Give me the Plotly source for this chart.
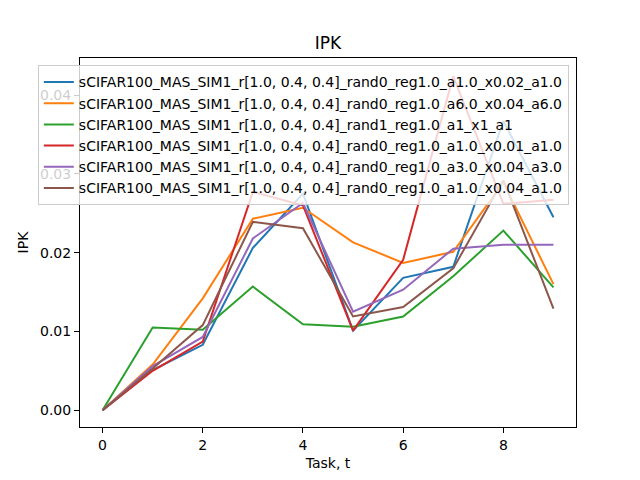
import plotly.graph_objects as go

tasks = [0, 1, 2, 3, 4, 5, 6, 7, 8, 9]

names = [
    "sCIFAR100_MAS_SIM1_r[1.0, 0.4, 0.4]_rand0_reg1.0_a1.0_x0.02_a1.0",
    "sCIFAR100_MAS_SIM1_r[1.0, 0.4, 0.4]_rand0_reg1.0_a6.0_x0.04_a6.0",
    "sCIFAR100_MAS_SIM1_r[1.0, 0.4, 0.4]_rand1_reg1.0_a1_x1_a1",
    "sCIFAR100_MAS_SIM1_r[1.0, 0.4, 0.4]_rand0_reg1.0_a1.0_x0.01_a1.0",
    "sCIFAR100_MAS_SIM1_r[1.0, 0.4, 0.4]_rand0_reg1.0_a3.0_x0.04_a3.0",
    "sCIFAR100_MAS_SIM1_r[1.0, 0.4, 0.4]_rand0_reg1.0_a1.0_x0.04_a1.0",
]

ipk_a1_x002 = [0, 0.0051, 0.0083, 0.0206, 0.0275, 0.0101, 0.0168, 0.0182, 0.0367, 0.0245]
ipk_a6_x004 = [0, 0.0058, 0.0142, 0.0243, 0.0257, 0.0213, 0.0187, 0.0201, 0.0289, 0.0160]
ipk_rand1 = [0, 0.0105, 0.0102, 0.0157, 0.0109, 0.0106, 0.0119, 0.0170, 0.0228, 0.0156]
ipk_a1_x001 = [0, 0.0050, 0.0087, 0.0277, 0.0260, 0.0101, 0.0191, 0.0424, 0.0262, 0.0267]
ipk_a3_x004 = [0, 0.0056, 0.0093, 0.0218, 0.0263, 0.0125, 0.0153, 0.0205, 0.0210, 0.0210]
ipk_a1_x004 = [0, 0.0053, 0.0108, 0.0239, 0.0231, 0.0119, 0.0131, 0.0180, 0.0292, 0.0129]

series = [ipk_a1_x002, ipk_a6_x004, ipk_rand1, ipk_a1_x001, ipk_a3_x004, ipk_a1_x004]
colors = ["#1f77b4", "#ff7f0e", "#2ca02c", "#d62728", "#9467bd", "#8c564b"]

fig = go.Figure()
for i, (name, vals) in enumerate(zip(names, series)):
    fig.add_trace(go.Scatter(x=tasks, y=vals, mode="lines", name=name,
                             line=dict(color=colors[i], width=2)))

axis_style = dict(showgrid=False, zeroline=False, showline=True, mirror=True,
                  linecolor="black", linewidth=1, ticks="outside", ticklen=5,
                  tickcolor="black", tickfont=dict(size=14, color="black"))

# page body has an 8px margin, so the margins are shifted to compensate
fig.update_layout(
    width=640, height=480,
    margin=dict(l=72, r=72, t=50, b=61),
    plot_bgcolor="white", paper_bgcolor="white",
    font=dict(family="DejaVu Sans", color="black"),
    title=dict(text="IPK", x=0.5, xref="paper", y=1 - 35 / 480, yref="container",
               yanchor="middle", font=dict(size=17)),
    xaxis=dict(title=dict(text="Task, t", font=dict(size=14), standoff=6),
               range=[-0.45, 9.45], dtick=2, tick0=0, **axis_style),
    yaxis=dict(title=dict(text="IPK", font=dict(size=14), standoff=8),
               range=[-0.00213, 0.0447], dtick=0.01, tick0=0, tickformat=".2f",
               **axis_style),
    legend=dict(x=-0.085, y=0.98, xanchor="left", yanchor="top",
                bgcolor="rgba(255,255,255,0.8)", bordercolor="#cccccc",
                borderwidth=1, font=dict(size=14)),
    showlegend=True,
)

fig.write_html("out.html")
